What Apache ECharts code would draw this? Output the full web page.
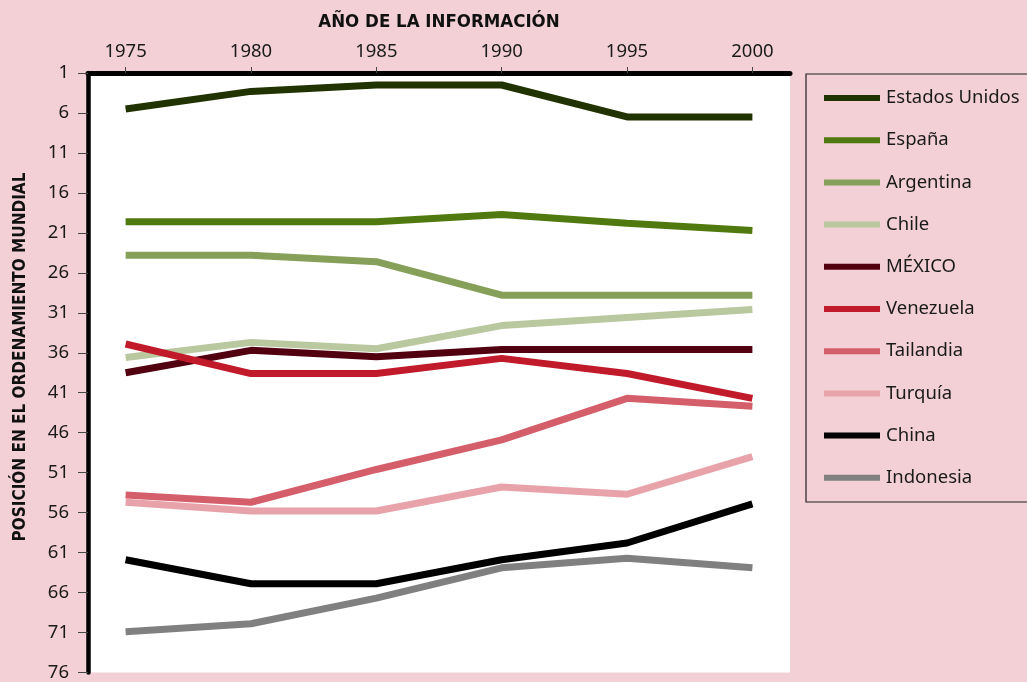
<!DOCTYPE html>
<html>
<head>
<meta charset="utf-8">
<script src="https://cdn.jsdelivr.net/npm/echarts@6/dist/echarts.min.js"></script>
<style>
  html, body { margin: 0; padding: 0; background: #f2d0d5; }
  #chart { width: 1027px; height: 682px; }
</style>
</head>
<body>
<div id="chart"></div>
<script>
var years = [1975, 1980, 1985, 1990, 1995, 2000]
var yTicks = [1, 6, 11, 16, 21, 26, 31, 36, 41, 46, 51, 56, 61, 66, 71, 76]

var paises = ['Estados Unidos', 'España', 'Argentina', 'Chile', 'MÉXICO', 'Venezuela', 'Tailandia', 'Turquía', 'China', 'Indonesia']
var colores = ['#213300', '#507a10', '#86a05a', '#b9c89f', '#520010', '#c11b2b', '#d55e6b', '#e8a3aa', '#000000', '#808080']

// posición en el ordenamiento mundial por año
var estadosUnidos = [5.5, 3.3, 2.5, 2.5, 6.5, 6.5]
var espana = [19.6, 19.6, 19.6, 18.7, 19.8, 20.7]
var argentina = [23.8, 23.8, 24.6, 28.8, 28.8, 28.8]
var chile = [36.6, 34.7, 35.5, 32.6, 31.6, 30.6]
var mexico = [38.5, 35.7, 36.5, 35.6, 35.6, 35.6]
var venezuela = [34.9, 38.6, 38.6, 36.7, 38.6, 41.7]
var tailandia = [53.8, 54.7, 50.6, 46.9, 41.7, 42.7]
var turquia = [54.7, 55.8, 55.8, 52.8, 53.7, 49]
var china = [61.9, 64.9, 64.9, 61.9, 59.8, 54.9]
var indonesia = [70.9, 69.9, 66.7, 62.9, 61.7, 62.9]

var valores = [estadosUnidos, espana, argentina, chile, mexico, venezuela, tailandia, turquia, china, indonesia]

var myChart = echarts.init(document.getElementById('chart'))

var option = {
  backgroundColor: '#f2d0d5',
  animation: false,
  textStyle: { fontFamily: 'Noto Sans' },
  grid: {
    left: 88,
    top: 73,
    right: 237,
    bottom: 9,
    show: true,
    backgroundColor: '#ffffff',
    borderWidth: 0
  },
  xAxis: {
    type: 'value',
    position: 'top',
    min: 1973.5,
    max: 2001.5,
    name: 'AÑO DE LA INFORMACIÓN',
    nameLocation: 'middle',
    nameGap: 41,
    nameTextStyle: {
      fontFamily: 'DejaVu Sans Condensed',
      fontWeight: 'bold',
      fontSize: 18.5,
      color: '#111'
    },
    axisLine: { show: true, lineStyle: { color: '#000', width: 5 } },
    axisTick: { show: true, length: 6, customValues: years, lineStyle: { color: '#444', width: 1 } },
    axisLabel: {
      customValues: years,
      margin: 12,
      fontSize: 18.5,
      color: '#1a1a1a',
      formatter: function (v) { return String(v) }
    },
    splitLine: { show: false }
  },
  yAxis: {
    type: 'value',
    inverse: true,
    min: 1,
    max: 76,
    interval: 5,
    axisLine: { show: true, lineStyle: { color: '#000', width: 4.5 } },
    axisTick: { show: true, length: 10, lineStyle: { color: '#444', width: 1 } },
    axisLabel: { margin: 19, fontSize: 18.5, color: '#1a1a1a' },
    splitLine: { show: false }
  },
  legend: {
    orient: 'vertical',
    left: 819,
    top: 83,
    icon: 'rect',
    itemWidth: 56,
    itemHeight: 6,
    itemGap: 22.2,
    textStyle: { fontSize: 18.5, lineHeight: 20, color: '#1a1a1a', padding: [0, 0, 0, 1] },
    data: paises
  },
  graphic: [
    {
      type: 'rect',
      shape: { x: 806, y: 74, width: 260, height: 428 },
      style: { fill: 'none', stroke: '#222', lineWidth: 1.2 },
      silent: true
    },
    {
      type: 'text',
      x: 21,
      y: 357,
      rotation: Math.PI / 2,
      style: {
        text: 'POSICIÓN EN EL ORDENAMIENTO MUNDIAL',
        fontFamily: 'DejaVu Sans Condensed',
        fontWeight: 'bold',
        fontSize: 17,
        fill: '#111',
        align: 'center',
        verticalAlign: 'middle'
      }
    }
  ],
  series: paises.map(function (p, i) {
    return {
      name: p,
      type: 'line',
      symbol: 'none',
      color: colores[i],
      lineStyle: { width: 7, color: colores[i], cap: 'butt' },
      data: years.map(function (y, j) { return [y, valores[i][j]] })
    }
  })
}

myChart.setOption(option)
</script>
</body>
</html>
